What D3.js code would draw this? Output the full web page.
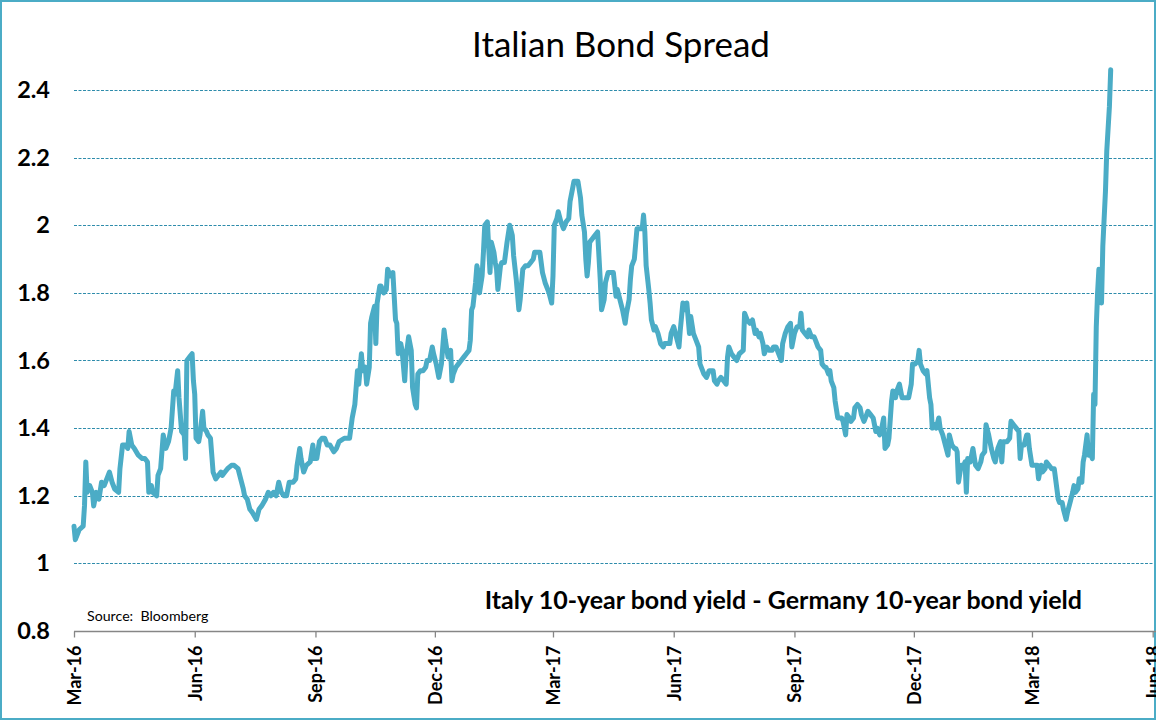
<!DOCTYPE html>
<html><head><meta charset="utf-8">
<script src="https://cdn.jsdelivr.net/npm/d3@7"></script>
<style>
body{margin:0;background:#fff}
svg{display:block}
text{font-family:Lato,"Open Sans",sans-serif}
</style>
</head><body>
<svg id="chart" width="1156" height="720"></svg>
<script>
const dates = [
"2016-03-01","2016-03-02","2016-03-05","2016-03-08","2016-03-09","2016-03-10","2016-03-11","2016-03-13","2016-03-15","2016-03-16",
"2016-03-18","2016-03-20","2016-03-22","2016-03-24","2016-03-26","2016-03-28","2016-03-30","2016-04-01","2016-04-04","2016-04-05",
"2016-04-07","2016-04-09","2016-04-11","2016-04-12","2016-04-14","2016-04-16","2016-04-19","2016-04-22","2016-04-24","2016-04-26",
"2016-04-27","2016-04-29","2016-04-30","2016-05-03","2016-05-04","2016-05-06","2016-05-08","2016-05-10","2016-05-12","2016-05-14",
"2016-05-16","2016-05-17","2016-05-19","2016-05-20","2016-05-22","2016-05-24","2016-05-25","2016-05-26","2016-05-28","2016-05-30",
"2016-05-31","2016-06-01","2016-06-02","2016-06-04","2016-06-05","2016-06-07","2016-06-08","2016-06-10","2016-06-11","2016-06-13",
"2016-06-15","2016-06-17","2016-06-19","2016-06-21","2016-06-22","2016-06-24","2016-06-26","2016-06-29","2016-07-01","2016-07-04",
"2016-07-06","2016-07-08","2016-07-09","2016-07-11","2016-07-13","2016-07-15","2016-07-18","2016-07-20","2016-07-22","2016-07-25",
"2016-07-27","2016-07-29","2016-07-31","2016-08-02","2016-08-04","2016-08-06","2016-08-08","2016-08-10","2016-08-12","2016-08-15",
"2016-08-17","2016-08-18","2016-08-20","2016-08-21","2016-08-23","2016-08-25","2016-08-28","2016-08-30","2016-08-31","2016-09-02",
"2016-09-04","2016-09-06","2016-09-08","2016-09-10","2016-09-12","2016-09-15","2016-09-17","2016-09-19","2016-09-23","2016-09-27",
"2016-09-29","2016-10-01","2016-10-03","2016-10-04","2016-10-06","2016-10-07","2016-10-09","2016-10-10","2016-10-12","2016-10-13",
"2016-10-14","2016-10-16","2016-10-17","2016-10-18","2016-10-20","2016-10-21","2016-10-23","2016-10-25","2016-10-26","2016-10-28",
"2016-10-30","2016-11-01","2016-11-02","2016-11-03","2016-11-05","2016-11-06","2016-11-08","2016-11-09","2016-11-11","2016-11-13",
"2016-11-14","2016-11-16","2016-11-17","2016-11-18","2016-11-20","2016-11-22","2016-11-24","2016-11-25","2016-11-27","2016-11-29",
"2016-11-30","2016-12-02","2016-12-04","2016-12-06","2016-12-08","2016-12-09","2016-12-11","2016-12-13","2016-12-14","2016-12-15",
"2016-12-17","2016-12-19","2016-12-21","2016-12-23","2016-12-25","2016-12-27","2016-12-28","2016-12-29","2016-12-30","2017-01-01",
"2017-01-02","2017-01-03","2017-01-04","2017-01-06","2017-01-07","2017-01-08","2017-01-10","2017-01-12","2017-01-13","2017-01-15",
"2017-01-16","2017-01-17","2017-01-18","2017-01-20","2017-01-21","2017-01-23","2017-01-24","2017-01-25","2017-01-27","2017-01-29",
"2017-01-30","2017-02-01","2017-02-03","2017-02-04","2017-02-06","2017-02-08","2017-02-10","2017-02-12","2017-02-14","2017-02-15",
"2017-02-17","2017-02-19","2017-02-21","2017-02-23","2017-02-26","2017-02-28","2017-03-01","2017-03-02","2017-03-04","2017-03-05",
"2017-03-07","2017-03-09","2017-03-11","2017-03-13","2017-03-14","2017-03-16","2017-03-17","2017-03-20","2017-03-22","2017-03-23",
"2017-03-25","2017-03-26","2017-03-27","2017-03-28","2017-03-29","2017-03-31","2017-04-02","2017-04-04","2017-04-05","2017-04-06",
"2017-04-07","2017-04-09","2017-04-10","2017-04-12","2017-04-14","2017-04-16","2017-04-18","2017-04-19","2017-04-21","2017-04-23",
"2017-04-25","2017-04-26","2017-04-28","2017-04-29","2017-04-30","2017-05-02","2017-05-04","2017-05-06","2017-05-08","2017-05-09",
"2017-05-10","2017-05-11","2017-05-13","2017-05-14","2017-05-15","2017-05-17","2017-05-18","2017-05-20","2017-05-22","2017-05-24",
"2017-05-25","2017-05-27","2017-05-29","2017-05-30","2017-06-01","2017-06-03","2017-06-05","2017-06-06","2017-06-08","2017-06-10",
"2017-06-11","2017-06-13","2017-06-14","2017-06-16","2017-06-18","2017-06-20","2017-06-21","2017-06-23","2017-06-24","2017-06-26",
"2017-06-28","2017-06-29","2017-07-01","2017-07-02","2017-07-04","2017-07-05","2017-07-07","2017-07-09","2017-07-11","2017-07-12",
"2017-07-13","2017-07-15","2017-07-17","2017-07-19","2017-07-21","2017-07-24","2017-07-25","2017-07-27","2017-07-29","2017-07-31",
"2017-08-02","2017-08-03","2017-08-05","2017-08-06","2017-08-08","2017-08-09","2017-08-11","2017-08-13","2017-08-15","2017-08-16",
"2017-08-18","2017-08-20","2017-08-22","2017-08-23","2017-08-25","2017-08-27","2017-08-29","2017-08-30","2017-09-01","2017-09-03",
"2017-09-05","2017-09-06","2017-09-07","2017-09-09","2017-09-11","2017-09-12","2017-09-14","2017-09-16","2017-09-17","2017-09-19",
"2017-09-21","2017-09-22","2017-09-24","2017-09-25","2017-09-27","2017-09-28","2017-09-29","2017-10-01","2017-10-02","2017-10-04",
"2017-10-05","2017-10-07","2017-10-08","2017-10-10","2017-10-11","2017-10-13","2017-10-14","2017-10-16","2017-10-17","2017-10-19",
"2017-10-21","2017-10-22","2017-10-24","2017-10-26","2017-10-27","2017-10-29","2017-10-31","2017-11-02","2017-11-03","2017-11-05",
"2017-11-06","2017-11-08","2017-11-09","2017-11-11","2017-11-12","2017-11-14","2017-11-15","2017-11-17","2017-11-18","2017-11-20",
"2017-11-22","2017-11-24","2017-11-27","2017-11-29","2017-11-30","2017-12-02","2017-12-04","2017-12-05","2017-12-06","2017-12-08",
"2017-12-10","2017-12-11","2017-12-13","2017-12-14","2017-12-15","2017-12-17","2017-12-18","2017-12-20","2017-12-21","2017-12-23",
"2017-12-25","2017-12-27","2017-12-28","2017-12-30","2018-01-01","2018-01-02","2018-01-03","2018-01-04","2018-01-06","2018-01-08",
"2018-01-09","2018-01-10","2018-01-11","2018-01-13","2018-01-15","2018-01-17","2018-01-19","2018-01-21","2018-01-22","2018-01-24",
"2018-01-25","2018-01-27","2018-01-29","2018-01-31","2018-02-01","2018-02-03","2018-02-05","2018-02-06","2018-02-07","2018-02-10",
"2018-02-12","2018-02-13","2018-02-15","2018-02-17","2018-02-19","2018-02-20","2018-02-21","2018-02-23","2018-02-25","2018-02-26",
"2018-02-27","2018-03-01","2018-03-03","2018-03-05","2018-03-06","2018-03-08","2018-03-09","2018-03-11","2018-03-12","2018-03-14",
"2018-03-16","2018-03-18","2018-03-19","2018-03-21","2018-03-22","2018-03-24","2018-03-25","2018-03-27","2018-03-28","2018-03-30",
"2018-04-01","2018-04-02","2018-04-03","2018-04-05","2018-04-06","2018-04-08","2018-04-09","2018-04-10","2018-04-12","2018-04-13",
"2018-04-15","2018-04-16","2018-04-17","2018-04-18","2018-04-19","2018-04-20","2018-04-21","2018-04-23","2018-04-24","2018-04-26",
"2018-04-27","2018-04-29","2018-04-30"
];
const spread = [
1.11,1.07,1.10,1.11,1.17,1.30,1.21,1.23,1.21,1.17,
1.21,1.19,1.24,1.23,1.25,1.27,1.24,1.22,1.21,1.28,
1.35,1.35,1.34,1.39,1.35,1.34,1.32,1.31,1.31,1.30,
1.21,1.23,1.21,1.20,1.26,1.28,1.38,1.34,1.36,1.40,
1.51,1.50,1.57,1.49,1.39,1.38,1.31,1.60,1.61,1.62,
1.54,1.50,1.37,1.36,1.38,1.45,1.40,1.39,1.38,1.37,
1.27,1.25,1.26,1.27,1.26,1.27,1.28,1.29,1.29,1.28,
1.25,1.22,1.20,1.19,1.16,1.15,1.13,1.16,1.17,1.19,
1.21,1.20,1.21,1.20,1.24,1.21,1.20,1.20,1.24,1.24,
1.25,1.29,1.34,1.31,1.27,1.29,1.30,1.35,1.31,1.31,
1.36,1.37,1.37,1.35,1.35,1.33,1.34,1.36,1.37,1.37,
1.43,1.47,1.57,1.53,1.62,1.57,1.58,1.53,1.58,1.71,
1.73,1.76,1.65,1.77,1.82,1.82,1.80,1.81,1.87,1.85,
1.86,1.72,1.71,1.62,1.65,1.63,1.54,1.61,1.67,1.63,
1.52,1.47,1.46,1.56,1.57,1.57,1.58,1.60,1.60,1.64,
1.62,1.59,1.55,1.59,1.69,1.66,1.61,1.63,1.54,1.56,
1.58,1.59,1.60,1.61,1.62,1.63,1.66,1.75,1.76,1.83,
1.88,1.86,1.80,1.85,1.92,2.00,2.01,1.86,1.95,1.92,
1.89,1.87,1.81,1.88,1.89,1.89,1.92,1.95,2.00,1.97,
1.91,1.84,1.75,1.78,1.87,1.88,1.88,1.89,1.90,1.92,
1.92,1.92,1.86,1.83,1.80,1.77,1.85,2.00,2.02,2.04,
2.01,1.99,2.01,2.02,2.07,2.11,2.13,2.13,2.08,2.03,
1.98,1.90,1.85,1.89,1.95,1.96,1.97,1.98,1.91,1.84,
1.75,1.78,1.83,1.86,1.86,1.86,1.79,1.81,1.78,1.75,
1.71,1.74,1.78,1.84,1.88,1.90,1.99,1.99,1.99,2.03,
1.98,1.88,1.81,1.77,1.72,1.69,1.70,1.68,1.65,1.64,
1.65,1.65,1.65,1.68,1.70,1.67,1.64,1.69,1.77,1.75,
1.77,1.68,1.73,1.68,1.66,1.64,1.59,1.57,1.56,1.55,
1.57,1.57,1.57,1.54,1.53,1.54,1.55,1.54,1.53,1.61,
1.64,1.62,1.61,1.60,1.62,1.63,1.74,1.72,1.71,1.72,
1.68,1.69,1.67,1.68,1.65,1.62,1.64,1.63,1.63,1.64,
1.64,1.62,1.60,1.65,1.68,1.70,1.71,1.64,1.68,1.70,
1.70,1.74,1.69,1.68,1.67,1.69,1.67,1.67,1.66,1.64,
1.63,1.59,1.58,1.58,1.56,1.57,1.54,1.52,1.48,1.43,
1.43,1.43,1.42,1.38,1.44,1.43,1.42,1.43,1.46,1.47,
1.46,1.44,1.42,1.44,1.45,1.44,1.43,1.39,1.40,1.38,
1.39,1.43,1.34,1.35,1.37,1.48,1.51,1.49,1.51,1.53,
1.49,1.49,1.49,1.53,1.59,1.59,1.60,1.63,1.59,1.57,
1.56,1.57,1.49,1.47,1.40,1.41,1.40,1.43,1.40,1.38,
1.35,1.32,1.38,1.35,1.34,1.34,1.33,1.24,1.29,1.29,
1.30,1.21,1.31,1.30,1.34,1.29,1.28,1.30,1.32,1.33,
1.41,1.38,1.34,1.31,1.30,1.34,1.36,1.30,1.36,1.36,
1.37,1.42,1.41,1.40,1.39,1.31,1.35,1.35,1.38,1.38,
1.34,1.29,1.29,1.29,1.25,1.29,1.27,1.28,1.30,1.29,
1.28,1.28,1.25,1.19,1.18,1.18,1.16,1.13,1.15,1.18,
1.21,1.23,1.21,1.22,1.25,1.24,1.30,1.32,1.38,1.32,
1.32,1.31,1.50,1.47,1.70,1.80,1.87,1.77,1.94,2.10,
2.22,2.35,2.46
];
const yTicks = [0.8, 1, 1.2, 1.4, 1.6, 1.8, 2, 2.2, 2.4];
const xTickDates = ["2016-03-01","2016-06-01","2016-09-01","2016-12-01","2017-03-01","2017-06-01","2017-09-01","2017-12-01","2018-03-01","2018-06-01"];
const xTickLabels = ["Mar-16","Jun-16","Sep-16","Dec-16","Mar-17","Jun-17","Sep-17","Dec-17","Mar-18","Jun-18"];
const titleText = "Italian Bond Spread";
const subtitleText = "Italy 10-year bond yield - Germany 10-year bond yield";
const sourceText = "Source:\u00a0 Bloomberg";

const parse = d3.timeParse("%Y-%m-%d");
const data = dates.map((d, i) => ({date: parse(d), value: spread[i]}));

const W = 1156, H = 720;
const svg = d3.select("#chart");
const x = d3.scaleTime().domain([parse("2016-03-01"), parse("2018-06-01")]).range([74, 1152.7]);
const y = d3.scaleLinear().domain([0.8, 2.4]).range([631, 90]);

// outer border
svg.append("rect").attr("x", 1).attr("y", 1).attr("width", W - 2).attr("height", H - 2)
  .attr("fill", "#fff").attr("stroke", "#4BACC6").attr("stroke-width", 2);

// gridlines
svg.append("g").selectAll("line").data(yTicks.filter(v => v > 0.8)).join("line")
  .attr("x1", 74).attr("x2", 1154)
  .attr("y1", d => Math.round(y(d)) + 0.5).attr("y2", d => Math.round(y(d)) + 0.5)
  .attr("stroke", "#2E8CAB").attr("stroke-width", 1).attr("stroke-dasharray", "3,1.5");

// y axis labels
const yAxis = svg.append("g").attr("transform", "translate(74,0)")
  .call(d3.axisLeft(y).tickValues(yTicks).tickSize(0).tickPadding(24).tickFormat(d => String(d)));
yAxis.select(".domain").remove();
yAxis.selectAll("text").attr("font-family", "Lato").attr("font-weight", "bold")
  .attr("font-size", 23.5).attr("fill", "#000");

// x axis
const xAxis = svg.append("g").attr("transform", "translate(0,631.5)")
  .call(d3.axisBottom(x).tickValues(xTickDates.map(parse)).tickSize(6).tickSizeOuter(0)
    .tickFormat((d, i) => xTickLabels[i]));
xAxis.select(".domain").attr("stroke", "#868686").attr("stroke-width", 1.3)
  .attr("d", "M74,0H1156");
xAxis.selectAll(".tick line").attr("stroke", "#868686").attr("stroke-width", 1.3);
xAxis.selectAll("text").attr("font-family", "Lato").attr("font-weight", "bold")
  .attr("font-size", 18).attr("fill", "#000")
  .attr("transform", "rotate(-90)").attr("text-anchor", "end")
  .attr("x", -14).attr("y", 0).attr("dy", "0.36em");

// line
const line = d3.line().x(d => x(d.date)).y(d => y(d.value));
svg.append("path").datum(data).attr("d", line)
  .attr("fill", "none").attr("stroke", "#4BACC6").attr("stroke-width", 5)
  .attr("stroke-linejoin", "round").attr("stroke-linecap", "round");

// texts
svg.append("text").attr("x", 621).attr("y", 57).attr("text-anchor", "middle")
  .attr("font-size", 35).attr("fill", "#000").text(titleText);
svg.append("text").attr("x", 1082).attr("y", 609).attr("text-anchor", "end")
  .attr("font-size", 25).attr("font-weight", "bold").attr("fill", "#000").text(subtitleText);
svg.append("text").attr("x", 87).attr("y", 621)
  .attr("font-size", 14.2).attr("fill", "#000").text(sourceText);
</script>
</body></html>
